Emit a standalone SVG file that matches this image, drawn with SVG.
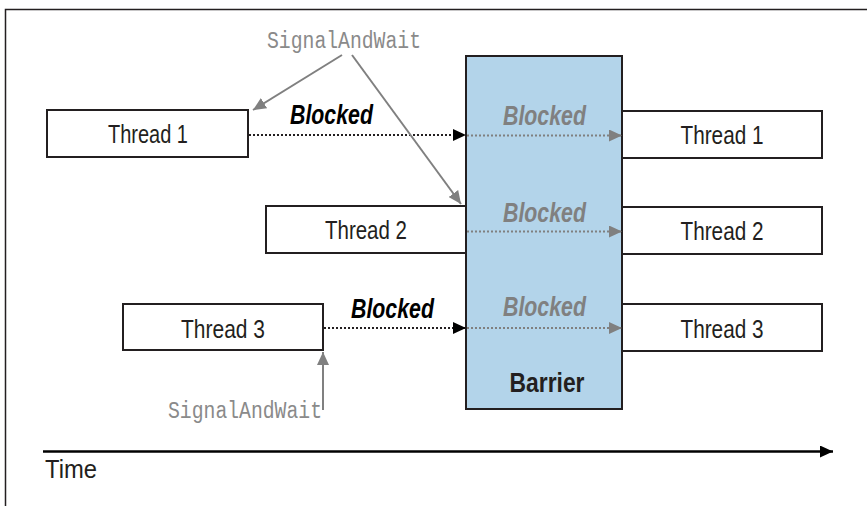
<svg xmlns="http://www.w3.org/2000/svg" width="867" height="506" viewBox="0 0 867 506">
<style>
.box{fill:#fff;stroke:#231f20;stroke-width:2}
.lbl{font-family:"Liberation Sans",Arial,sans-serif;font-size:26px;fill:#231f20}
.blk{font-family:"Liberation Sans",Arial,sans-serif;font-size:27px;font-weight:bold;font-style:italic}
.mono{font-family:"Liberation Mono","Courier New",monospace;font-size:23px;fill:#8a8a8a}
.dotk{stroke:#231f20;stroke-width:2;stroke-dasharray:2 2;fill:none}
.dotg{stroke:#808080;stroke-width:2;stroke-dasharray:2 2;fill:none}
.garr{stroke:#808080;stroke-width:2;fill:none}
</style>
<defs>
<marker id="ak" viewBox="0 0 13 12" refX="13" refY="6" markerWidth="13" markerHeight="12" markerUnits="userSpaceOnUse" orient="auto"><path d="M0,0L13,6L0,12Z" fill="#000"/></marker>
<marker id="ag" viewBox="0 0 13 12" refX="13" refY="6" markerWidth="13" markerHeight="12" markerUnits="userSpaceOnUse" orient="auto"><path d="M0,0L13,6L0,12Z" fill="#808080"/></marker>
</defs>
<rect width="867" height="506" fill="#fff"/>
<path d="M5.5,506V9.5H867" fill="none" stroke="#231f20" stroke-width="1.5"/>

<g id="barrier">
<rect x="466" y="56" width="156" height="353" fill="#b3d4ea" stroke="#231f20" stroke-width="2"/>
<text x="547" y="392" text-anchor="middle" fill="#231f20" textLength="75" lengthAdjust="spacingAndGlyphs" style="font-family:'Liberation Sans',Arial,sans-serif;font-size:28px;font-weight:bold">Barrier</text>
</g>

<g id="thread1-left"><rect class="box" x="47" y="110" width="201" height="47"/><text class="lbl" x="148" y="143" text-anchor="middle" textLength="80" lengthAdjust="spacingAndGlyphs">Thread 1</text></g>
<g id="thread2-left"><rect class="box" x="266" y="206" width="200" height="47"/><text class="lbl" x="366" y="239" text-anchor="middle" textLength="82" lengthAdjust="spacingAndGlyphs">Thread 2</text></g>
<g id="thread3-left"><rect class="box" x="123" y="304" width="200" height="46"/><text class="lbl" x="223" y="338" text-anchor="middle" textLength="84" lengthAdjust="spacingAndGlyphs">Thread 3</text></g>
<g id="thread1-right"><rect class="box" x="622" y="111" width="200" height="47"/><text class="lbl" x="722" y="144" text-anchor="middle" textLength="83" lengthAdjust="spacingAndGlyphs">Thread 1</text></g>
<g id="thread2-right"><rect class="box" x="622" y="207" width="200" height="47"/><text class="lbl" x="722" y="240" text-anchor="middle" textLength="83" lengthAdjust="spacingAndGlyphs">Thread 2</text></g>
<g id="thread3-right"><rect class="box" x="622" y="304" width="200" height="47"/><text class="lbl" x="722" y="338" text-anchor="middle" textLength="83" lengthAdjust="spacingAndGlyphs">Thread 3</text></g>

<g id="connectors">
<line class="dotk" x1="249" y1="135" x2="466" y2="135" marker-end="url(#ak)"/>
<line class="dotk" x1="324" y1="328" x2="466" y2="328" marker-end="url(#ak)"/>
<line class="dotg" x1="467" y1="135.5" x2="622" y2="135.5" marker-end="url(#ag)"/>
<line class="dotg" x1="467" y1="231.5" x2="622" y2="231.5" marker-end="url(#ag)"/>
<line class="dotg" x1="467" y1="328" x2="622" y2="328" marker-end="url(#ag)"/>
<line class="garr" x1="342" y1="55" x2="253" y2="110" marker-end="url(#ag)"/>
<line class="garr" x1="352" y1="55" x2="461" y2="204" marker-end="url(#ag)"/>
<line class="garr" x1="323" y1="410" x2="323" y2="352" marker-end="url(#ag)"/>
<line x1="43" y1="451.5" x2="833" y2="451.5" stroke="#000" stroke-width="2.5" marker-end="url(#ak)"/>
</g>

<g id="labels">
<text class="blk" x="290" y="124" fill="#000" textLength="83" lengthAdjust="spacingAndGlyphs">Blocked</text>
<text class="blk" x="351" y="318" fill="#000" textLength="83" lengthAdjust="spacingAndGlyphs">Blocked</text>
<text class="blk" x="503" y="125" fill="#808080" textLength="83" lengthAdjust="spacingAndGlyphs">Blocked</text>
<text class="blk" x="503" y="222" fill="#808080" textLength="83" lengthAdjust="spacingAndGlyphs">Blocked</text>
<text class="blk" x="503" y="316" fill="#808080" textLength="83" lengthAdjust="spacingAndGlyphs">Blocked</text>
<text class="mono" x="267" y="48" textLength="154" lengthAdjust="spacingAndGlyphs">SignalAndWait</text>
<text class="mono" x="168" y="418" textLength="154" lengthAdjust="spacingAndGlyphs">SignalAndWait</text>
<text class="lbl" x="45" y="478" textLength="52" lengthAdjust="spacingAndGlyphs">Time</text>
</g>
</svg>
